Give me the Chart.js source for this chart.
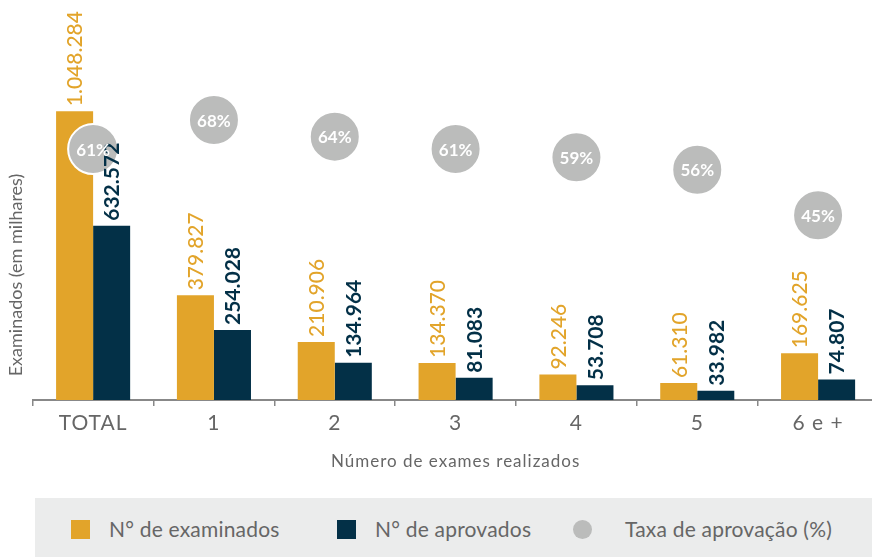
<!DOCTYPE html>
<html>
<head>
<meta charset="utf-8">
<script src="https://cdn.jsdelivr.net/npm/chart.js@4.4.1/dist/chart.umd.min.js"></script>
<style>
  html, body { margin: 0; padding: 0; width: 872px; height: 557px; overflow: hidden; background: #fff; font-family: Lato, "Open Sans", sans-serif; }
  #wrap { position: absolute; left: 0; top: 0; width: 880px; height: 475px; }
  #legend { position: absolute; left: 35px; top: 498px; width: 837px; height: 59px; background: #EBECEC; }
  .li { position: absolute; top: 0; height: 59px; line-height: 61px; font-size: 21px; color: #666; white-space: nowrap; letter-spacing: 0.2px; }
  .sw { position: absolute; }
</style>
</head>
<body>
<div id="wrap"><canvas id="c"></canvas></div>
<div id="legend">
  <div class="sw" style="left:36px; top:22px; width:19px; height:19px; background:#E2A42A;"></div>
  <div class="li" style="left:74px;">N° de examinados</div>
  <div class="sw" style="left:302px; top:22px; width:19px; height:19px; background:#033047;"></div>
  <div class="li" style="left:340px;">N° de aprovados</div>
  <div class="sw" style="left:538px; top:22px; width:19px; height:19px; border-radius:50%; background:#BBBCBB;"></div>
  <div class="li" style="left:590px;">Taxa de aprovação (%)</div>
</div>
<script>
const categories = ["TOTAL", "1", "2", "3", "4", "5", "6 e +"];
const examinados = [1048284, 379827, 210906, 134370, 92246, 61310, 169625];
const aprovados = [632572, 254028, 134964, 81083, 53708, 33982, 74807];
const taxaAprovacao = [61, 68, 64, 61, 59, 56, 45];

const ORANGE = "#E2A42A", NAVY = "#033047", GRAY = "#BBBCBB";
const FONT = "Lato, 'Open Sans', sans-serif";
const fmt = v => String(v).replace(/\B(?=(\d{3})+(?!\d))/g, ".");

const labelPlugin = {
  id: "labels",
  beforeDraw(chart) { chart.ctx.letterSpacing = "1px"; },
  beforeDatasetsDraw(chart) { chart.ctx.letterSpacing = "0px"; },
  afterDatasetsDraw(chart) {
    const ctx = chart.ctx;
    ctx.save();
    ctx.letterSpacing = "0px";
    [0, 1].forEach(di => {
      const meta = chart.getDatasetMeta(di);
      const ds = chart.data.datasets[di];
      meta.data.forEach((bar, i) => {
        ctx.save();
        ctx.translate(bar.x, bar.y - 5);
        ctx.rotate(-Math.PI / 2);
        ctx.textAlign = "left";
        ctx.textBaseline = "middle";
        ctx.fillStyle = di === 0 ? ORANGE : NAVY;
        ctx.font = (di === 0 ? "500 " : "bold ") + "21px " + FONT;
        ctx.fillText(fmt(ds.data[i]), 0, 1);
        ctx.restore();
      });
    });
    const pm = chart.getDatasetMeta(2);
    pm.data.forEach((pt, i) => {
      ctx.fillStyle = "#fff";
      ctx.font = "bold 17px " + FONT;
      ctx.textAlign = "center";
      ctx.textBaseline = "middle";
      ctx.fillText(taxaAprovacao[i] + "%", pt.x, pt.y + 1);
    });
    // y-axis title
    ctx.save();
    ctx.translate(16, 275);
    ctx.rotate(-Math.PI / 2);
    ctx.fillStyle = "#666";
    ctx.font = "18px " + FONT;
    ctx.textAlign = "center";
    ctx.textBaseline = "middle";
    ctx.fillText("Examinados (em milhares)", 0, 0);
    ctx.restore();
    ctx.restore();
  }
};

new Chart(document.getElementById("c"), {
  data: {
    labels: categories,
    datasets: [
      { type: "bar", label: "N° de examinados", data: examinados, backgroundColor: ORANGE, yAxisID: "y", order: 2,
        categoryPercentage: 0.613, barPercentage: 1 },
      { type: "bar", label: "N° de aprovados", data: aprovados, backgroundColor: NAVY, yAxisID: "y", order: 2,
        categoryPercentage: 0.613, barPercentage: 1 },
      { type: "line", label: "Taxa de aprovação (%)", data: taxaAprovacao, yAxisID: "y1", order: 1,
        showLine: false, pointRadius: 25, pointHoverRadius: 25, pointBackgroundColor: GRAY,
        pointBorderColor: "#fff", pointBorderWidth: 2, pointHoverBorderWidth: 2, clip: false }
    ]
  },
  options: {
    responsive: true,
    maintainAspectRatio: false,
    animation: false,
    events: [],
    layout: { autoPadding: false, padding: { left: 32.7, right: 1.5, top: 0, bottom: 0 } },
    plugins: { legend: { display: false }, tooltip: { enabled: false } },
    scales: {
      x: {
        offset: true,
        grid: { offset: true, drawOnChartArea: false, drawTicks: true, tickLength: 6, color: "#888", lineWidth: 1.5 },
        border: { display: true, color: "#888", width: 2 },
        ticks: { color: "#666", font: { size: 21, family: FONT }, padding: 5 },
        title: { display: true, text: "Número de exames realizados", color: "#666",
                 font: { size: 17, family: FONT }, padding: { top: 0, bottom: 3 } },
        afterFit: s => { s.height = 75; }
      },
      y: { display: false, min: 0, max: 1452000 },
      y1: { display: false, min: 0.4, max: 97 }
    }
  },
  plugins: [labelPlugin]
});
</script>
</body>
</html>
